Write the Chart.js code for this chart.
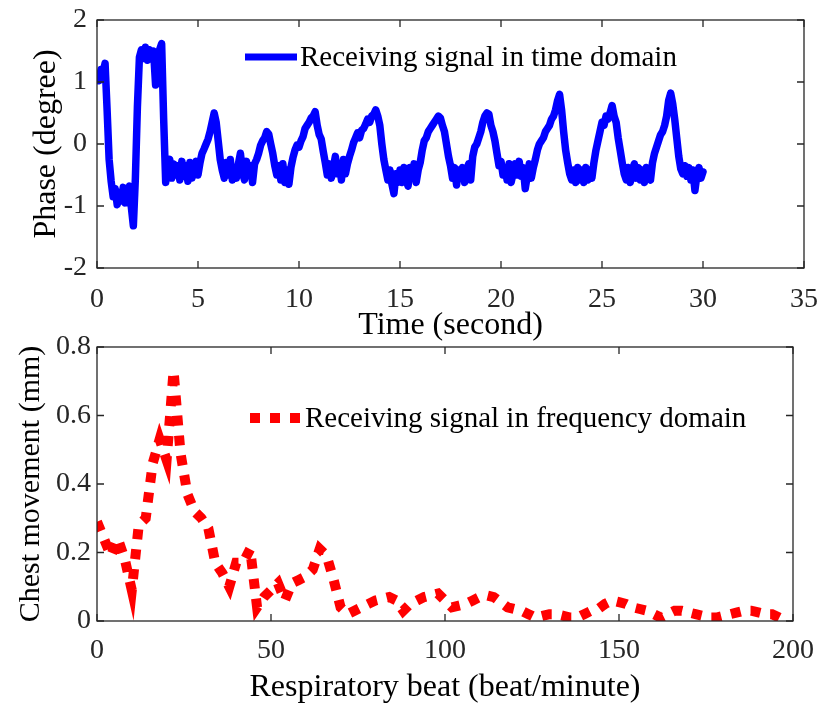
<!DOCTYPE html>
<html>
<head>
<meta charset="utf-8">
<script src="https://cdn.jsdelivr.net/npm/chart.js@4.4.1/dist/chart.umd.min.js"></script>
<style>
  html, body { margin: 0; padding: 0; background: #fff; }
  body { width: 821px; height: 707px; position: relative; overflow: hidden; }
  .panel { position: absolute; left: 0; }
  #timePanel { top: 0; width: 821px; height: 345px; }
  #freqPanel { top: 320px; width: 821px; height: 387px; }
</style>
</head>
<body>
<div class="panel" id="timePanel"><canvas id="timeChart" width="821" height="345"></canvas></div>
<div class="panel" id="freqPanel"><canvas id="freqChart" width="821" height="387"></canvas></div>
<script>
// phase samples, one every 0.1 s from 0 to 30 s
const timeStep = 0.1;
const phaseDeg = [
    1.12, 1.02, 1.20, 1.15, 1.30, 0.55, -0.25, -0.60, -0.85, -0.72,
    -0.98, -0.78, -0.92, -0.70, -0.95, -0.78, -0.68, -1.02, -1.32, -0.55,
    0.60, 1.40, 1.52, 1.38, 1.56, 1.35, 1.52, 1.40, 1.50, 0.95,
    1.40, 1.52, 1.62, 0.40, -0.62, -0.30, -0.25, -0.55, -0.32, -0.50,
    -0.35, -0.58, -0.28, -0.52, -0.35, -0.60, -0.30, -0.55, -0.40, -0.28,
    -0.50, -0.30, -0.15, -0.08, 0.00, 0.08, 0.20, 0.35, 0.50, 0.35,
    0.05, -0.25, -0.42, -0.55, -0.30, -0.50, -0.25, -0.58, -0.38, -0.55,
    -0.32, -0.15, -0.45, -0.58, -0.28, -0.50, -0.35, -0.62, -0.32, -0.25,
    -0.15, -0.02, 0.05, 0.10, 0.20, 0.16, 0.00, -0.15, -0.35, -0.50,
    -0.35, -0.58, -0.32, -0.62, -0.42, -0.65, -0.38, -0.22, -0.10, -0.02,
    -0.05, 0.05, 0.12, 0.25, 0.30, 0.35, 0.42, 0.45, 0.52, 0.30,
    0.15, 0.08, -0.12, -0.30, -0.50, -0.32, -0.55, -0.38, -0.20, -0.48,
    -0.32, -0.58, -0.25, -0.48, -0.32, -0.20, -0.10, 0.02, 0.10, 0.18,
    0.10, 0.22, 0.25, 0.32, 0.40, 0.35, 0.45, 0.48, 0.55, 0.45,
    0.30, 0.00, -0.25, -0.42, -0.58, -0.42, -0.65, -0.80, -0.48, -0.62,
    -0.42, -0.62, -0.38, -0.58, -0.68, -0.38, -0.55, -0.32, -0.62, -0.42,
    -0.30, -0.10, 0.05, 0.10, 0.20, 0.25, 0.30, 0.35, 0.40, 0.45,
    0.42, 0.30, 0.20, 0.00, -0.20, -0.35, -0.55, -0.38, -0.66, -0.42,
    -0.55, -0.38, -0.62, -0.42, -0.32, -0.58, -0.20, -0.05, 0.00, 0.10,
    0.20, 0.35, 0.45, 0.50, 0.48, 0.30, 0.20, 0.05, -0.15, -0.35,
    -0.28, -0.50, -0.38, -0.58, -0.32, -0.62, -0.48, -0.32, -0.50, -0.28,
    -0.52, -0.38, -0.72, -0.52, -0.32, -0.55, -0.38, -0.25, -0.10, 0.00,
    0.05, 0.10, 0.20, 0.25, 0.30, 0.40, 0.45, 0.55, 0.70, 0.80,
    0.55, 0.20, -0.10, -0.30, -0.48, -0.58, -0.42, -0.62, -0.38, -0.58,
    -0.42, -0.62, -0.38, -0.58, -0.42, -0.55, -0.30, -0.10, 0.05, 0.20,
    0.35, 0.30, 0.45, 0.40, 0.50, 0.62, 0.45, 0.35, 0.10, -0.10,
    -0.30, -0.48, -0.58, -0.38, -0.62, -0.42, -0.32, -0.55, -0.38, -0.58,
    -0.42, -0.62, -0.38, -0.55, -0.58, -0.30, -0.15, -0.05, 0.05, 0.15,
    0.20, 0.30, 0.45, 0.70, 0.82, 0.65, 0.40, 0.10, -0.20, -0.40,
    -0.48, -0.35, -0.52, -0.38, -0.58, -0.42, -0.75, -0.50, -0.38, -0.55,
    -0.45
];

// spectrum bins, one every 2 beat/minute from 0 to 198
const beatStep = 2;
const chestMm = [
    0.29, 0.24, 0.19, 0.24, 0.18, 0.09, 0.28, 0.30, 0.46, 0.53,
    0.47, 0.73, 0.49, 0.37, 0.32, 0.30, 0.27, 0.17, 0.14, 0.10,
    0.17, 0.17, 0.21, 0.04, 0.07, 0.09, 0.11, 0.06, 0.11, 0.12,
    0.13, 0.15, 0.21, 0.19, 0.12, 0.04, 0.02, 0.03, 0.04, 0.05,
    0.06, 0.065, 0.07, 0.06, 0.03, 0.05, 0.06, 0.07, 0.075, 0.08,
    0.06, 0.04, 0.045, 0.05, 0.06, 0.07, 0.075, 0.07, 0.055, 0.04,
    0.035, 0.03, 0.02, 0.01, 0.015, 0.02, 0.02, 0.015, 0.01, 0.01,
    0.02, 0.03, 0.035, 0.05, 0.06, 0.055, 0.05, 0.04, 0.035, 0.03,
    0.02, 0.01, 0.02, 0.03, 0.03, 0.025, 0.02, 0.015, 0.01, 0.01,
    0.015, 0.02, 0.025, 0.03, 0.03, 0.025, 0.02, 0.02, 0.01, 0.00
];

const timeTicks = [0, 5, 10, 15, 20, 25, 30, 35];
const phaseTicks = [-2, -1, 0, 1, 2];
const beatTicks = [0, 50, 100, 150, 200];
const chestTicks = [0, 0.2, 0.4, 0.6, 0.8];

const SERIF = "'Liberation Serif', 'Times New Roman', serif";
const AXIS_GRAY = '#262626';

// box around the plot with inward ticks on all four sides
const frameTicks = {
    id: 'frameTicks',
    afterDatasetsDraw(chart) {
        const { ctx, chartArea: a, scales } = chart;
        const len = 7;
        ctx.save();
        ctx.strokeStyle = AXIS_GRAY;
        ctx.lineWidth = 1.3;
        ctx.strokeRect(a.left, a.top, a.right - a.left, a.bottom - a.top);
        ctx.beginPath();
        scales.x.ticks.forEach(t => {
            const px = scales.x.getPixelForValue(t.value);
            ctx.moveTo(px, a.bottom); ctx.lineTo(px, a.bottom - len);
            ctx.moveTo(px, a.top); ctx.lineTo(px, a.top + len);
        });
        scales.y.ticks.forEach(t => {
            const py = scales.y.getPixelForValue(t.value);
            ctx.moveTo(a.left, py); ctx.lineTo(a.left + len, py);
            ctx.moveTo(a.right, py); ctx.lineTo(a.right - len, py);
        });
        ctx.stroke();
        ctx.restore();
    }
};

// legend drawn inside the plot area
const insetLegend = {
    id: 'insetLegend',
    afterDraw(chart, args, opts) {
        const ds = chart.data.datasets[0];
        const { ctx, chartArea } = chart;
        const x0 = chartArea.left + opts.dx;
        const y0 = chartArea.top + opts.dy;
        ctx.save();
        ctx.strokeStyle = ds.borderColor;
        ctx.lineWidth = opts.lineWidth || ds.borderWidth;
        ctx.lineCap = 'butt';
        ctx.setLineDash(ds.borderDash || []);
        ctx.beginPath();
        ctx.moveTo(x0, y0);
        ctx.lineTo(x0 + opts.length, y0);
        ctx.stroke();
        ctx.setLineDash([]);
        ctx.fillStyle = '#000';
        ctx.font = opts.fontSize + 'px ' + SERIF;
        ctx.textBaseline = 'middle';
        ctx.fillText(ds.label, x0 + opts.length + opts.gap, y0 + 1);
        ctx.restore();
    }
};

function axis(min, max, tickValues, title, opts) {
    return {
        type: 'linear',
        min: min,
        max: max,
        afterBuildTicks: scale => { scale.ticks = tickValues.map(v => ({ value: v })); },
        afterFit: opts.fit,
        grid: { display: false, drawTicks: false },
        border: { display: false },
        ticks: {
            color: AXIS_GRAY,
            padding: opts.pad,
            font: { family: SERIF, size: 28, lineHeight: 1.1 },
            maxRotation: 0,
            autoSkip: false
        },
        title: {
            display: true,
            text: title,
            color: '#000',
            font: { family: SERIF, size: opts.titleSize || 32 },
            padding: opts.titlePad
        }
    };
}

function baseOptions(padding, legendOpts) {
    return {
        responsive: false,
        animation: false,
        layout: { padding: padding },
        plugins: {
            legend: { display: false },
            tooltip: { enabled: false },
            insetLegend: legendOpts
        }
    };
}

// fixed axis sizes so the plot boxes sit where the layout padding puts them
function fitX(h) {
    return s => { s.height = h; s.paddingLeft = 0; s.paddingRight = 0; };
}
function fitY(w) {
    return s => { s.width = w; s.paddingTop = 0; s.paddingBottom = 0; };
}

const timeOptions = baseOptions({ left: 0, top: 20, right: 17, bottom: 0 },
    { dx: 148, dy: 37, length: 52, gap: 3, fontSize: 29, lineWidth: 7 });
timeOptions.scales = {
    x: axis(0, 35, timeTicks, 'Time (second)', {
        pad: 16, titlePad: { top: -8, bottom: 0 }, fit: fitX(77)
    }),
    y: axis(-2, 2, phaseTicks, 'Phase (degree)', {
        pad: 10, titlePad: { top: 27, bottom: 0 }, fit: fitY(97)
    })
};

new Chart(document.getElementById('timeChart'), {
    type: 'line',
    data: {
        datasets: [{
            label: 'Receiving signal in time domain',
            data: phaseDeg.map((v, i) => ({ x: i * timeStep, y: v })),
            borderColor: '#0000ff',
            borderWidth: 7.5,
            borderJoinStyle: 'round',
            borderCapStyle: 'round',
            pointRadius: 0,
            tension: 0
        }]
    },
    options: timeOptions,
    plugins: [frameTicks, insetLegend]
});

const freqOptions = baseOptions({ left: 0, top: 27, right: 28, bottom: 0 },
    { dx: 153, dy: 71, length: 50, gap: 5, fontSize: 29 });
freqOptions.scales = {
    x: axis(0, 200, beatTicks, 'Respiratory beat (beat/minute)', {
        pad: 14, titlePad: { top: 4, bottom: 0 }, fit: fitX(86)
    }),
    y: axis(0, 0.8, chestTicks, 'Chest movement (mm)', {
        pad: 6, titlePad: { top: 13, bottom: 0 }, titleSize: 30, fit: fitY(97)
    })
};

new Chart(document.getElementById('freqChart'), {
    type: 'line',
    data: {
        datasets: [{
            label: 'Receiving signal in frequency domain',
            data: chestMm.map((v, i) => ({ x: i * beatStep, y: v })),
            borderColor: '#ff0000',
            borderWidth: 10,
            borderDash: [10, 10],
            borderCapStyle: 'butt',
            pointRadius: 0,
            tension: 0
        }]
    },
    options: freqOptions,
    plugins: [frameTicks, insetLegend]
});
</script>
</body>
</html>
